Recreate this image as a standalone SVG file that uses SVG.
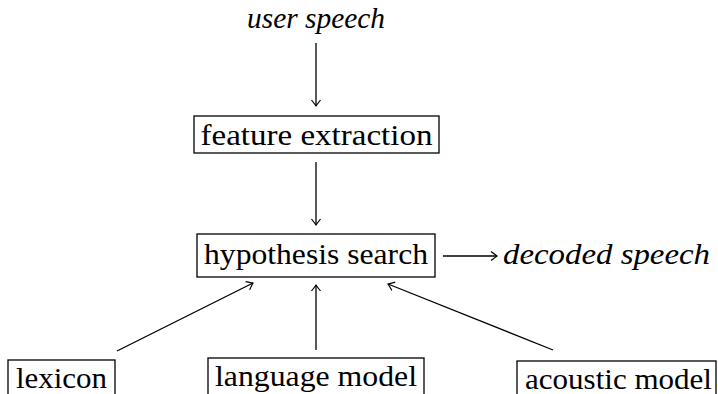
<svg xmlns="http://www.w3.org/2000/svg" width="718" height="394" viewBox="0 0 718 394">
<style>
.box{fill:#fff;stroke:#000;stroke-width:1.3}
.t{font-family:"Liberation Serif","DejaVu Serif",serif;font-size:29px;fill:#000}
.i{font-style:italic}
.c{fill:none;stroke:#000;stroke-width:1.3}
</style>
<defs>
<marker id="ah" viewBox="-8 -6 10 12" markerWidth="10" markerHeight="12" refX="0" refY="0" orient="auto" markerUnits="userSpaceOnUse">
<path d="M-6,-4.5 Q-1.5,-1 0,0 Q-1.5,1 -6,4.5" fill="none" stroke="#000" stroke-width="1.2"/>
</marker>
</defs>
<rect width="718" height="394" fill="#fff"/>
<g id="connectors">
<line class="c" x1="316" y1="43" x2="316" y2="106" marker-end="url(#ah)"/>
<line class="c" x1="316" y1="162" x2="316" y2="225" marker-end="url(#ah)"/>
<line class="c" x1="443" y1="256" x2="497" y2="256" marker-end="url(#ah)"/>
<line class="c" x1="117" y1="351" x2="253" y2="283" marker-end="url(#ah)"/>
<line class="c" x1="316" y1="350" x2="316" y2="285" marker-end="url(#ah)"/>
<line class="c" x1="553" y1="350" x2="388" y2="284" marker-end="url(#ah)"/>
</g>
<g id="user-speech"><text class="t i" x="316" y="28" text-anchor="middle" textLength="138" lengthAdjust="spacingAndGlyphs">user speech</text></g>
<g id="feature-extraction"><rect class="box" x="194" y="116" width="245" height="37"/><text class="t" x="316.5" y="145" text-anchor="middle" textLength="232" lengthAdjust="spacingAndGlyphs">feature extraction</text></g>
<g id="hypothesis-search"><rect class="box" x="197" y="234" width="238" height="43"/><text class="t" x="316" y="264" text-anchor="middle" textLength="224" lengthAdjust="spacingAndGlyphs">hypothesis search</text></g>
<g id="decoded-speech"><text class="t i" x="503" y="264" textLength="207" lengthAdjust="spacingAndGlyphs">decoded speech</text></g>
<g id="lexicon"><rect class="box" x="8" y="360" width="107" height="50"/><text class="t" x="61.5" y="388" text-anchor="middle" textLength="91" lengthAdjust="spacingAndGlyphs">lexicon</text></g>
<g id="language-model"><rect class="box" x="208" y="358" width="216" height="50"/><text class="t" x="316" y="386" text-anchor="middle" textLength="202" lengthAdjust="spacingAndGlyphs">language model</text></g>
<g id="acoustic-model"><rect class="box" x="517" y="361" width="199" height="50"/><text class="t" x="618.5" y="389" text-anchor="middle" textLength="187" lengthAdjust="spacingAndGlyphs">acoustic model</text></g>
</svg>
